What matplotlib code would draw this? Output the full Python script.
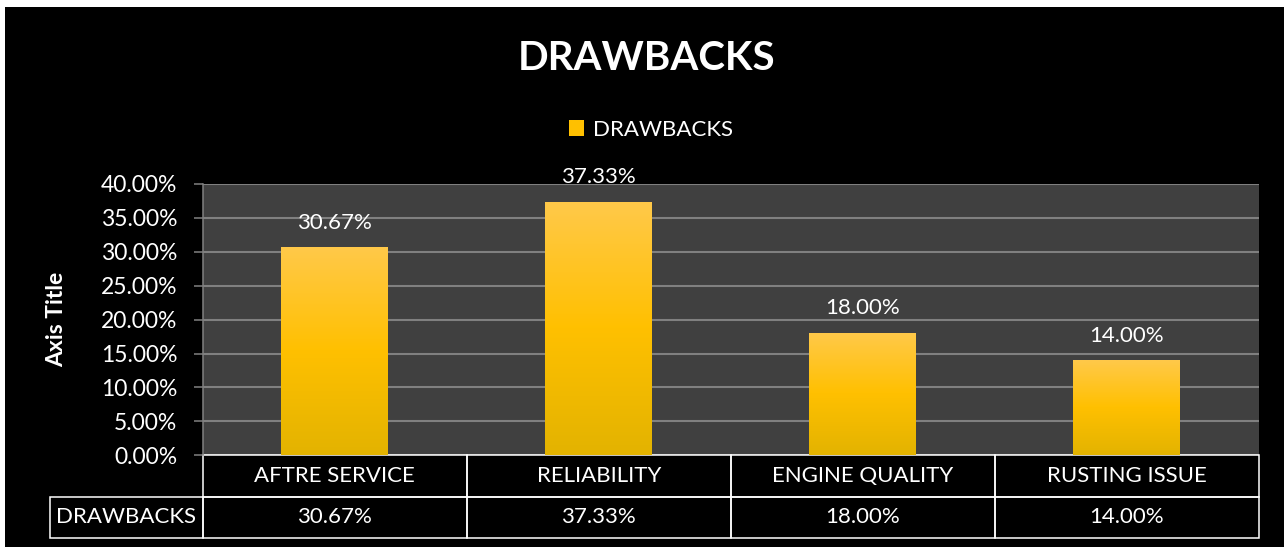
import numpy as np
from matplotlib import pyplot as plt
from matplotlib.colors import LinearSegmentedColormap
from matplotlib.patches import Rectangle
from matplotlib.transforms import blended_transform_factory

plt.rcParams['font.family'] = ['Lato', 'DejaVu Sans']

# data
categories = ['AFTRE SERVICE', 'RELIABILITY', 'ENGINE QUALITY', 'RUSTING ISSUE']
values = [30.67, 37.33, 18.00, 14.00]
series_name = 'DRAWBACKS'
y_ticks = [0, 5, 10, 15, 20, 25, 30, 35, 40]

W, H = 1284, 547
fig = plt.figure(figsize=(W / 100, H / 100), dpi=100, facecolor='white')
fig.add_artist(Rectangle((5 / W, 0), 1, 1 - 7 / H, transform=fig.transFigure,
                         facecolor='black', edgecolor='none', zorder=0))

# plot area in pixels
left, right, top, bottom = 202.7, 1258.7, 184, 455.3
ax = fig.add_axes([left / W, 1 - bottom / H, (right - left) / W, (bottom - top) / H])
ax.set_facecolor('#404040')

fs = 16

x = np.arange(len(categories))
bars = ax.bar(x, values, width=0.405, color='#FFC000', zorder=3, label=series_name)

# excel-ish gradient fill
grad = np.linspace(0, 1, 256).reshape(-1, 1)
cmap = LinearSegmentedColormap.from_list('gold', [(0, '#E3B300'), (0.5, '#FFC000'), (1, '#FFC94A')])
for b in bars:
    x0, y0 = b.get_xy()
    im = ax.imshow(grad, cmap=cmap, origin='lower', aspect='auto', zorder=3.5,
                   extent=[x0, x0 + b.get_width(), y0, y0 + b.get_height()])
    im.set_clip_path(b)

for xi, v in zip(x, values):
    ax.annotate('%.2f%%' % v, (xi, v), xytext=(0, 13.5), textcoords='offset points',
                ha='center', va='baseline', color='white', fontsize=fs, zorder=5,
                annotation_clip=False)

ax.set_xlim(-0.5, len(categories) - 0.5)
ax.set_ylim(0, 40)
ax.set_yticks(y_ticks)
ax.set_yticklabels(['%.2f%%' % t for t in y_ticks])
ax.set_xticks([])
ax.yaxis.grid(True, color='#808080', linewidth=1.5, zorder=1)
ax.set_axisbelow(True)
ax.tick_params(axis='y', length=6.3, width=1.1, color='#808080', pad=12,
               labelcolor='white', labelsize=16.5)
for s in ['top', 'right', 'bottom']:
    ax.spines[s].set_visible(False)
ax.spines['left'].set_color('#808080')
ax.spines['left'].set_linewidth(1.1)

ax.set_ylabel('Axis Title', color='white', fontsize=16.5, fontweight='bold')
ax.yaxis.label.set_va('center')
ax.yaxis.set_label_coords((57 - left) / (right - left), 0.5)

# data table under the axis
ph = bottom - top
r1 = -(496.7 - bottom) / ph
r2 = -(538 - bottom) / ph
tr = blended_transform_factory(ax.transData, ax.transAxes)
lc, lw = 'white', 1.1
for i, c in enumerate(categories):
    ax.add_artist(Rectangle((i - 0.5, r1), 1, -r1, transform=tr, fill=False,
                            edgecolor=lc, linewidth=lw, clip_on=False))
    ax.add_artist(Rectangle((i - 0.5, r2), 1, r1 - r2, transform=tr, fill=False,
                            edgecolor=lc, linewidth=lw, clip_on=False))
    ax.text(i, r1 / 2, c, transform=tr, ha='center', va='center', color='white', fontsize=fs)
    ax.text(i, (r1 + r2) / 2, '%.2f%%' % values[i], transform=tr, ha='center', va='center',
            color='white', fontsize=fs)
lab_x = (50 - left) / (right - left)
ax.add_artist(Rectangle((lab_x, r2), -lab_x, r1 - r2, transform=ax.transAxes, fill=False,
                        edgecolor=lc, linewidth=lw, clip_on=False))
ax.text(lab_x / 2, (r1 + r2) / 2, series_name, transform=ax.transAxes, ha='center',
        va='center', color='white', fontsize=fs)

fig.text(647 / W, 1 - 58 / H, 'DRAWBACKS', ha='center', va='center', color='white',
         fontsize=29, fontweight='bold')
fig.legend(handles=[bars], labels=[series_name], loc='center',
           bbox_to_anchor=(651 / W, 1 - 130 / H), frameon=False, fontsize=fs,
           labelcolor='white', handlelength=0.7, handleheight=0.7, handletextpad=0.4)

fig.savefig('out.png', dpi=100, facecolor=fig.get_facecolor())
